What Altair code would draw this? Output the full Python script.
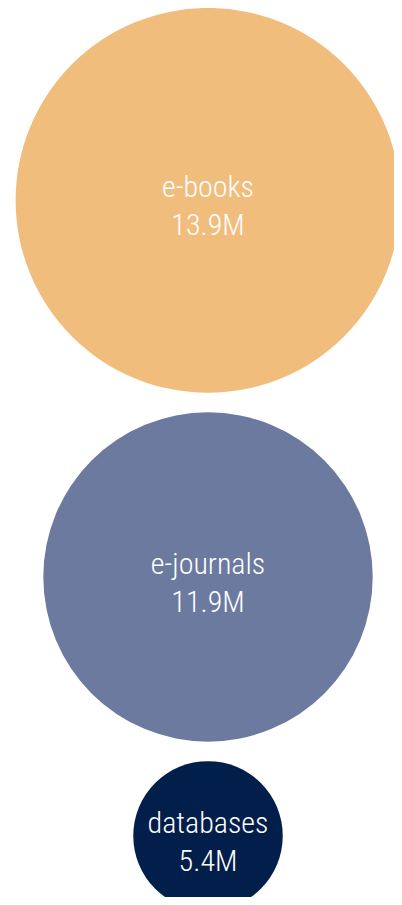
import altair as alt
import pandas as pd

# Data
categories = ["e-books", "e-journals", "databases"]
values = [13.9, 11.9, 5.4]  # millions
value_labels = ["13.9M", "11.9M", "5.4M"]
colors = ["#F1BD7D", "#6B7A9E", "#021E4B"]

# Layout constants
W, H = 386, 889
PX_PER_UNIT = 13.84   # pixels of radius per million
GAP_PX = 19.5         # vertical gap between circles
CX = 200              # horizontal centre of the column

df = pd.DataFrame({
    "category": categories,
    "value": values,
    "vlabel": value_labels,
    "order": list(range(len(categories))),
})

base = alt.Chart(df).transform_window(
    cum="sum(value)",
    rank="row_number()",
    sort=[alt.SortField("order")],
    frame=[None, 0],
).transform_calculate(
    center=f"2*datum.cum - datum.value + (datum.rank - 1) * {GAP_PX / PX_PER_UNIT}",
    lines="[datum.category, datum.vlabel]",
)

y_enc = alt.Y(
    "center:Q",
    scale=alt.Scale(domain=[0, H / PX_PER_UNIT], reverse=True, zero=True, nice=False),
    axis=None,
)

# Vega circle symbol: size = (diameter)^2
circles = base.mark_circle(opacity=1, strokeWidth=0).encode(
    x=alt.value(CX),
    y=y_enc,
    size=alt.Size(
        "value:Q",
        scale=alt.Scale(
            type="pow",
            exponent=2,
            domain=[0, max(values)],
            range=[0, (2 * max(values) * PX_PER_UNIT) ** 2],
        ),
        legend=None,
    ),
    color=alt.Color(
        "category:N",
        scale=alt.Scale(domain=categories, range=colors),
        legend=None,
    ),
)

labels = base.mark_text(
    color="white",
    font="Roboto Condensed, Liberation Sans Narrow, Roboto",
    fontSize=30,
    fontWeight=300,
    lineHeight=38,
    baseline="alphabetic",
    align="center",
    dy=-3,
).encode(
    x=alt.value(CX),
    y=y_enc,
    text="lines:N",
)

chart = alt.layer(circles, labels).properties(
    width=W,
    height=H,
    padding=0,
    autosize=alt.AutoSizeParams(type="none"),
).configure_view(strokeWidth=0)

chart.save("out.html", embed_options={"renderer": "svg", "actions": False})
